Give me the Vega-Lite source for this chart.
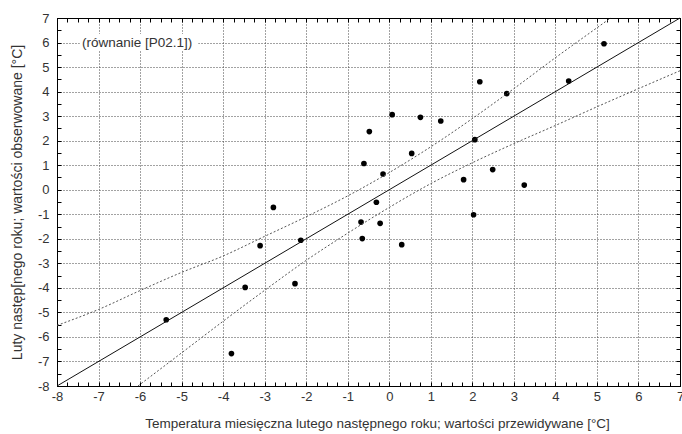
{
  "$schema": "https://vega.github.io/schema/vega-lite/v6.json",
  "width": 623,
  "height": 368,
  "autosize": {"type": "none"},
  "padding": {"left": 57, "top": 18, "right": 2, "bottom": 48},
  "background": "white",
  "config": {
    "view": {"stroke": "#000", "strokeWidth": 1},
    "axis": {
      "labelFont": "Liberation Sans",
      "labelFontSize": 13,
      "labelColor": "#333",
      "titleFont": "Liberation Sans",
      "titleFontSize": 14,
      "titleFontWeight": "normal",
      "titleColor": "#333",
      "domainColor": "#000",
      "tickColor": "#000",
      "gridColor": "#444",
      "gridDash": [1, 2],
      "gridOpacity": 1,
      "labelOverlap": false,
      "labelBound": false,
      "labelFlush": false
    }
  },
  "resolve": {"axis": {"x": "independent", "y": "independent"}},
  "layer": [
    {
      "data": {"values": [
        {"x": -5.37, "y": -5.30}, {"x": -3.80, "y": -6.68}, {"x": -3.47, "y": -3.98},
        {"x": -3.11, "y": -2.28}, {"x": -2.79, "y": -0.72}, {"x": -2.27, "y": -3.83},
        {"x": -2.13, "y": -2.06}, {"x": -0.68, "y": -1.32}, {"x": -0.65, "y": -1.99},
        {"x": -0.61, "y": 1.07}, {"x": -0.48, "y": 2.37}, {"x": -0.31, "y": -0.51},
        {"x": -0.22, "y": -1.37}, {"x": -0.15, "y": 0.64}, {"x": 0.07, "y": 3.06},
        {"x": 0.30, "y": -2.24}, {"x": 0.54, "y": 1.48}, {"x": 0.75, "y": 2.95},
        {"x": 1.24, "y": 2.80}, {"x": 1.79, "y": 0.41}, {"x": 2.03, "y": -1.02},
        {"x": 2.06, "y": 2.04}, {"x": 2.18, "y": 4.40}, {"x": 2.49, "y": 0.82},
        {"x": 2.83, "y": 3.92}, {"x": 3.25, "y": 0.19}, {"x": 4.32, "y": 4.43},
        {"x": 5.17, "y": 5.95}
      ]},
      "mark": {"type": "circle", "size": 32, "color": "#000", "opacity": 1},
      "encoding": {
        "x": {"field": "x", "type": "quantitative",
          "scale": {"domain": [-8, 7], "nice": false, "zero": false},
          "axis": {"orient": "bottom", "grid": false, "tickSize": -4, "labelPadding": 8,
            "values": [-8,-7.75,-7.5,-7.25,-7,-6.75,-6.5,-6.25,-6,-5.75,-5.5,-5.25,-5,-4.75,-4.5,-4.25,-4,-3.75,-3.5,-3.25,-3,-2.75,-2.5,-2.25,-2,-1.75,-1.5,-1.25,-1,-0.75,-0.5,-0.25,0,0.25,0.5,0.75,1,1.25,1.5,1.75,2,2.25,2.5,2.75,3,3.25,3.5,3.75,4,4.25,4.5,4.75,5,5.25,5.5,5.75,6,6.25,6.5,6.75,7],
            "labelExpr": "datum.value % 1 === 0 ? ('' + datum.value) : ''",
            "title": "Temperatura miesięczna lutego następnego roku; wartości przewidywane [°C]",
            "titleFontSize": 13.5,
            "titleX": 320, "titleY": 41, "titleBaseline": "alphabetic"}},
        "y": {"field": "y", "type": "quantitative",
          "scale": {"domain": [-8, 7], "nice": false, "zero": false},
          "axis": {"orient": "left", "grid": false, "tickSize": -4, "labelPadding": 12,
            "values": [-8,-7.5,-7,-6.5,-6,-5.5,-5,-4.5,-4,-3.5,-3,-2.5,-2,-1.5,-1,-0.5,0,0.5,1,1.5,2,2.5,3,3.5,4,4.5,5,5.5,6,6.5,7],
            "labelExpr": "datum.value % 1 === 0 ? ('' + datum.value) : ''",
            "title": "Luty następ[nego roku; wartości obserwowane [°C]",
            "titleX": -33}}
      }
    },
    {
      "data": {"values": [{"x": -8, "y": -8}, {"x": 7, "y": 7}]},
      "mark": {"type": "line", "color": "#111", "strokeWidth": 1},
      "encoding": {
        "x": {"field": "x", "type": "quantitative",
          "scale": {"domain": [-8, 7], "nice": false, "zero": false},
          "axis": {"orient": "top", "grid": false, "labels": false, "title": null, "tickSize": -4,
            "values": [-8,-7.75,-7.5,-7.25,-7,-6.75,-6.5,-6.25,-6,-5.75,-5.5,-5.25,-5,-4.75,-4.5,-4.25,-4,-3.75,-3.5,-3.25,-3,-2.75,-2.5,-2.25,-2,-1.75,-1.5,-1.25,-1,-0.75,-0.5,-0.25,0,0.25,0.5,0.75,1,1.25,1.5,1.75,2,2.25,2.5,2.75,3,3.25,3.5,3.75,4,4.25,4.5,4.75,5,5.25,5.5,5.75,6,6.25,6.5,6.75,7]}},
        "y": {"field": "y", "type": "quantitative",
          "scale": {"domain": [-8, 7], "nice": false, "zero": false},
          "axis": {"orient": "right", "grid": false, "labels": false, "title": null, "tickSize": -4,
            "values": [-8,-7.5,-7,-6.5,-6,-5.5,-5,-4.5,-4,-3.5,-3,-2.5,-2,-1.5,-1,-0.5,0,0.5,1,1.5,2,2.5,3,3.5,4,4.5,5,5.5,6,6.5,7]}}
      }
    },
    {
      "data": {"values": [
        {"x": -8, "y": -5.53}, {"x": -7, "y": -4.88}, {"x": -6, "y": -4.11},
        {"x": -5, "y": -3.37}, {"x": -4, "y": -2.70}, {"x": -3, "y": -1.90},
        {"x": -2, "y": -1.10}, {"x": -1, "y": -0.25}, {"x": 0, "y": 0.70},
        {"x": 1, "y": 1.75}, {"x": 2, "y": 2.90}, {"x": 3, "y": 4.12},
        {"x": 4, "y": 5.38}, {"x": 5, "y": 6.60}, {"x": 5.33, "y": 7.0}
      ]},
      "mark": {"type": "line", "color": "#555", "strokeWidth": 1, "strokeDash": [2, 2], "interpolate": "monotone"},
      "encoding": {
        "x": {"field": "x", "type": "quantitative",
          "scale": {"domain": [-8, 7], "nice": false, "zero": false},
          "axis": {"orient": "bottom", "grid": true, "ticks": false, "labels": false, "domain": false, "title": null,
            "values": [-8,-7,-6,-5,-4,-3,-2,-1,0,1,2,3,4,5,6,7]}},
        "y": {"field": "y", "type": "quantitative",
          "scale": {"domain": [-8, 7], "nice": false, "zero": false},
          "axis": {"orient": "left", "grid": true, "ticks": false, "labels": false, "domain": false, "title": null,
            "values": [-8,-7,-6,-5,-4,-3,-2,-1,0,1,2,3,4,5,6,7]}}
      }
    },
    {
      "data": {"values": [
        {"x": -6.05, "y": -8.0}, {"x": -5, "y": -6.65}, {"x": -4, "y": -5.36},
        {"x": -3, "y": -4.10}, {"x": -2, "y": -2.88}, {"x": -1, "y": -1.77},
        {"x": 0, "y": -0.72}, {"x": 1, "y": 0.25}, {"x": 2, "y": 1.10},
        {"x": 3, "y": 1.88}, {"x": 4, "y": 2.62}, {"x": 5, "y": 3.38},
        {"x": 6, "y": 4.12}, {"x": 7, "y": 4.85}
      ]},
      "mark": {"type": "line", "color": "#555", "strokeWidth": 1, "strokeDash": [2, 2], "interpolate": "monotone"},
      "encoding": {
        "x": {"field": "x", "type": "quantitative",
          "scale": {"domain": [-8, 7], "nice": false, "zero": false}, "axis": null},
        "y": {"field": "y", "type": "quantitative",
          "scale": {"domain": [-8, 7], "nice": false, "zero": false}, "axis": null}
      }
    },
    {
      "data": {"values": [{}]},
      "mark": {"type": "rect", "color": "white", "opacity": 1},
      "encoding": {
        "x": {"datum": -7.45, "type": "quantitative", "axis": null},
        "x2": {"datum": -4.6},
        "y": {"datum": 5.65, "type": "quantitative", "axis": null},
        "y2": {"datum": 6.35}
      }
    },
    {
      "data": {"values": [{}]},
      "mark": {"type": "text", "align": "left", "baseline": "middle", "font": "Liberation Sans", "fontSize": 13.5, "color": "#333"},
      "encoding": {
        "x": {"datum": -7.4, "type": "quantitative", "axis": null},
        "y": {"datum": 6, "type": "quantitative", "axis": null},
        "text": {"value": "(równanie [P02.1])"}
      }
    }
  ]
}
